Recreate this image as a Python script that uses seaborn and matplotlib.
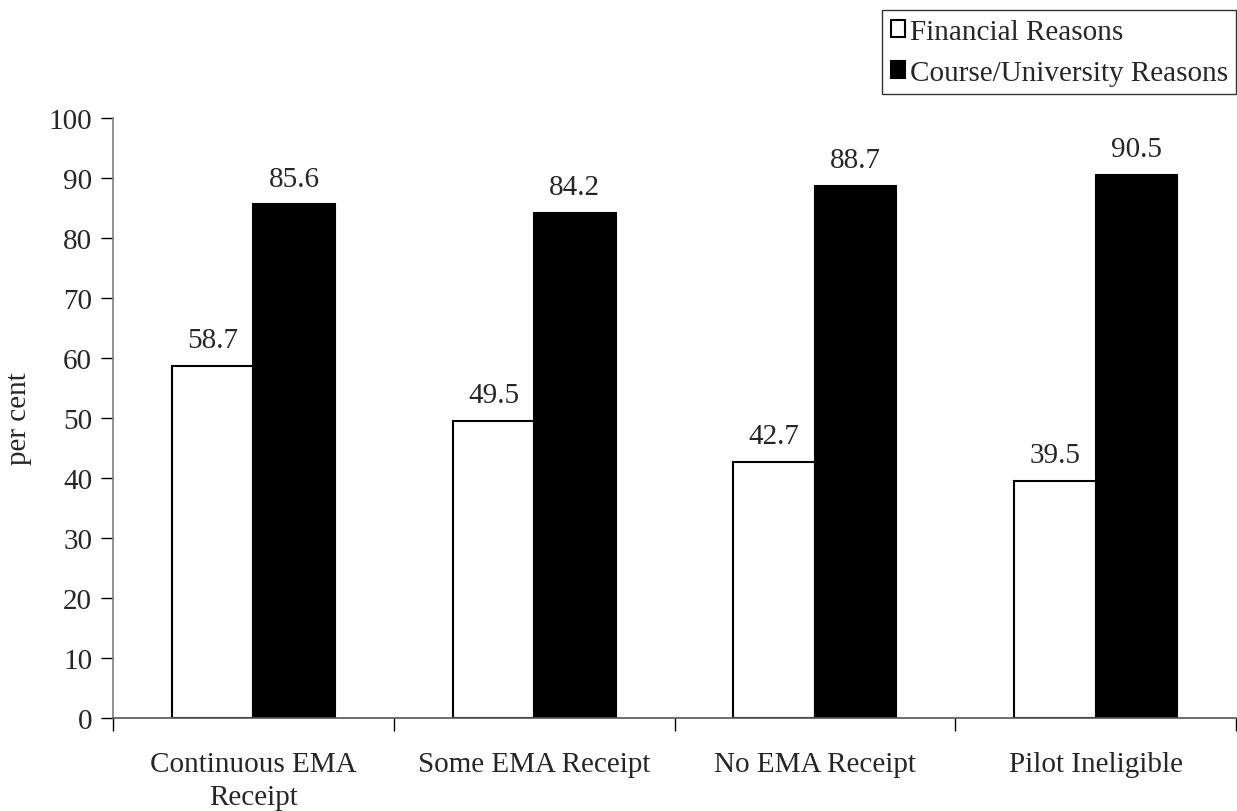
import pandas as pd
import matplotlib
matplotlib.use("Agg")
import matplotlib.pyplot as plt
from matplotlib.patches import Patch
from matplotlib.ticker import FixedLocator
import seaborn as sns

# data
categories = ["Continuous EMA\nReceipt", "Some EMA Receipt", "No EMA Receipt", "Pilot Ineligible"]
series_names = ["Financial Reasons", "Course/University Reasons"]
financial = [58.7, 49.5, 42.7, 39.5]
course = [85.6, 84.2, 88.7, 90.5]

df = pd.DataFrame({
    "group": categories * 2,
    "reason": [series_names[0]] * 4 + [series_names[1]] * 4,
    "value": financial + course,
})

sns.set_theme(style="white")
plt.rcParams['font.family'] = ['Liberation Serif', 'DejaVu Serif']
FS = 21

fig = plt.figure(figsize=(12.37, 8.12), dpi=100)
ax = fig.add_axes([0.0914, 0.1145, 0.9078, 0.739])

sns.barplot(data=df, x="group", y="value", hue="reason", order=categories,
            hue_order=series_names, palette=["white", "black"], width=0.58,
            edgecolor="black", linewidth=1.5, saturation=1, errorbar=None,
            legend=False, ax=ax)

# value labels above the bars
for cont in ax.containers:
    ax.bar_label(cont, fmt="%.1f", padding=9, fontsize=FS)

ax.set_ylim(0, 100)
ax.set_xlim(-0.5, len(categories) - 0.5)
ax.set_yticks(range(0, 101, 10))
ax.tick_params(axis="y", labelsize=FS, length=9, width=1, color="black",
               direction="out", left=True, pad=6)
ax.tick_params(axis="x", which="major", labelsize=FS, length=0, pad=24)
for lab in ax.get_xticklabels():
    lab.set_linespacing(1.35)
ax.xaxis.set_minor_locator(FixedLocator([i - 0.5 for i in range(len(categories) + 1)]))
ax.tick_params(axis="x", which="minor", length=9, width=1, color="black",
               direction="out", bottom=True)
ax.set_xlabel("")
ax.set_ylabel("per cent", fontsize=FS, labelpad=12)

for side in ["top", "right"]:
    ax.spines[side].set_visible(False)
ax.spines["left"].set_color("#808080")
ax.spines["bottom"].set_color("#555555")
ax.spines["left"].set_linewidth(1.2)
ax.spines["bottom"].set_linewidth(1.2)

handles = [Patch(facecolor="white", edgecolor="black", linewidth=1.5),
           Patch(facecolor="black", edgecolor="black", linewidth=1.5)]
leg = fig.legend(handles, series_names, loc="upper right",
                 bbox_to_anchor=(0.9995, 0.986), fontsize=FS, frameon=True,
                 fancybox=False, edgecolor="#333333", framealpha=1,
                 handlelength=0.5, handleheight=0.5, handletextpad=0.15,
                 borderpad=0.3, labelspacing=0.5, borderaxespad=0)
leg.get_frame().set_linewidth(1.0)

fig.savefig("out.png", dpi=100)
plt.close(fig)
